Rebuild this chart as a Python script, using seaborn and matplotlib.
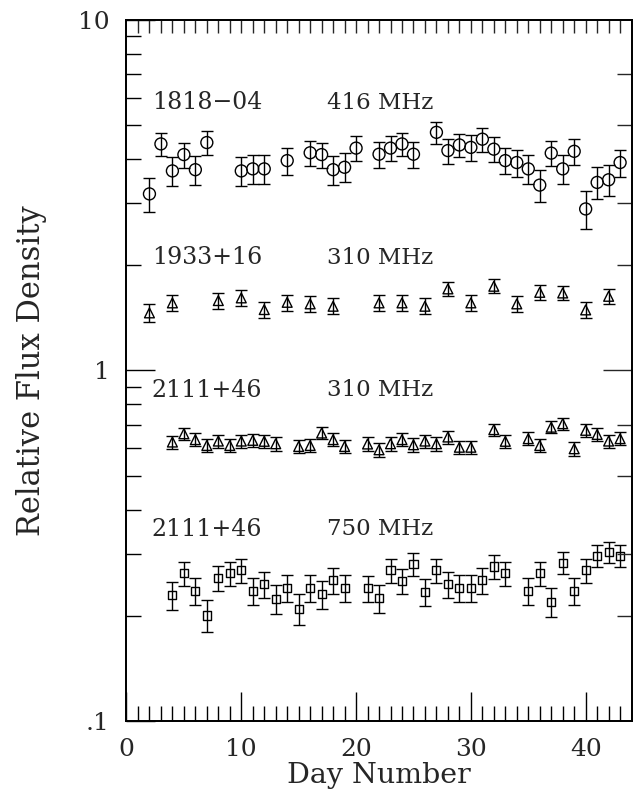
import numpy as np
import pandas as pd
import matplotlib
matplotlib.use("Agg")
import matplotlib.pyplot as plt
import seaborn as sns

# ---------------- data ----------------
days_1818 = [2, 3, 4, 5, 6, 7, 10, 11, 12, 14, 16, 17, 18, 19, 20, 22, 23, 24, 25,
             27, 28, 29, 30, 31, 32, 33, 34, 35, 36, 37, 38, 39, 40, 41, 42, 43]
flux_1818 = [3.19, 4.43, 3.71, 4.13, 3.74, 4.47, 3.71, 3.76, 3.76, 3.97, 4.18, 4.13,
             3.74, 3.80, 4.31, 4.14, 4.31, 4.43, 4.14, 4.78, 4.24, 4.40, 4.33, 4.57,
             4.28, 3.97, 3.92, 3.76, 3.38, 4.17, 3.76, 4.22, 2.89, 3.44, 3.50, 3.92]
err_1818 = [0.35, 0.34, 0.35, 0.34, 0.35, 0.35, 0.35, 0.35, 0.35, 0.35, 0.34, 0.34,
            0.36, 0.36, 0.36, 0.35, 0.35, 0.34, 0.35, 0.35, 0.35, 0.34, 0.36, 0.36,
            0.35, 0.34, 0.35, 0.35, 0.35, 0.34, 0.35, 0.36, 0.36, 0.36, 0.36, 0.35]

days_1933 = [2, 4, 8, 10, 12, 14, 16, 18, 22, 24, 26, 28, 30, 32, 34, 36, 38, 40, 42]
flux_1933 = [1.460, 1.559, 1.583, 1.611, 1.492, 1.565, 1.549, 1.525, 1.559, 1.559,
             1.525, 1.709, 1.559, 1.739, 1.549, 1.671, 1.664, 1.489, 1.628]
err_1933 = [0.083, 0.080, 0.081, 0.081, 0.081, 0.082, 0.080, 0.080, 0.080, 0.080,
            0.080, 0.080, 0.080, 0.080, 0.080, 0.080, 0.080, 0.080, 0.080]

days_2111_310 = [4, 5, 6, 7, 8, 9, 10, 11, 12, 13, 15, 16, 17, 18, 19, 21, 22, 23, 24,
                 25, 26, 27, 28, 29, 30, 32, 33, 35, 36, 37, 38, 39, 40, 41, 42, 43]
flux_2111_310 = [0.625, 0.660, 0.635, 0.611, 0.629, 0.611, 0.629, 0.632, 0.628, 0.618,
                 0.607, 0.611, 0.663, 0.635, 0.607, 0.617, 0.594, 0.618, 0.635, 0.614,
                 0.629, 0.618, 0.646, 0.604, 0.604, 0.678, 0.628, 0.639, 0.611, 0.689,
                 0.705, 0.598, 0.675, 0.657, 0.629, 0.639]
err_2111_310 = [0.027] * len(days_2111_310)

days_2111_750 = [4, 5, 6, 7, 8, 9, 10, 11, 12, 13, 14, 15, 16, 17, 18, 19, 21, 22, 23,
                 24, 25, 26, 27, 28, 29, 30, 31, 32, 33, 35, 36, 37, 38, 39, 40, 41, 42, 43]
flux_2111_750 = [0.229, 0.264, 0.235, 0.200, 0.256, 0.264, 0.269, 0.235, 0.246, 0.223,
                 0.240, 0.209, 0.240, 0.230, 0.252, 0.240, 0.239, 0.224, 0.269, 0.251,
                 0.281, 0.234, 0.269, 0.246, 0.240, 0.240, 0.252, 0.276, 0.264, 0.235,
                 0.264, 0.219, 0.283, 0.235, 0.269, 0.296, 0.304, 0.296]
err_2111_750 = [0.021] * len(days_2111_750)

labels_src = ["1818\u221204", "1933+16", "2111+46", "2111+46"]
labels_freq = ["416 MHz", "310 MHz", "310 MHz", "750 MHz"]
label_y = [5.80, 2.10, 0.877, 0.352]

y_ticks = [0.1, 1, 10]
y_ticklabels = [".1", "1", "10"]
x_ticks = [0, 10, 20, 30, 40]

# ---------------- style ----------------
sns.set_style("ticks")
plt.rcParams["font.family"] = ["DejaVu Serif", "DejaVu Sans"]
plt.rcParams["axes.linewidth"] = 1.1

fig = plt.figure(figsize=(6.34, 7.96), dpi=100)
ax = fig.add_axes([0.1995, 0.0942, 0.7967, 0.8807])

series = [
    (days_1818, flux_1818, err_1818, "o", 74),
    (days_1933, flux_1933, err_1933, "^", 50),
    (days_2111_310, flux_2111_310, err_2111_310, "^", 50),
    (days_2111_750, flux_2111_750, err_2111_750, "s", 34),
]

for d, f, e, m, s in series:
    df = pd.DataFrame({"day": d, "flux": f, "err": e})
    ax.errorbar(df["day"], df["flux"], yerr=df["err"], fmt="none",
                ecolor="black", elinewidth=1.0, capsize=4.2, capthick=1.0, zorder=2)
    sns.scatterplot(data=df, x="day", y="flux", marker=m, s=s,
                    facecolor="none", edgecolor="black", linewidth=1.0,
                    ax=ax, zorder=3, legend=False)

ax.set_yscale("log")
ax.set_xlim(0, 44)
ax.set_ylim(0.1, 10)

ax.set_yticks(y_ticks)
ax.set_yticklabels(y_ticklabels)
ax.set_yticks([0.2, 0.3, 0.4, 0.5, 0.6, 0.7, 0.8, 0.9, 2, 3, 4, 5, 6, 7, 8, 9], minor=True)
ax.yaxis.set_minor_formatter(matplotlib.ticker.NullFormatter())
ax.set_xticks(x_ticks)
ax.set_xticks([i for i in range(1, 44) if i % 10 != 0], minor=True)

ax.tick_params(which="both", direction="in", top=False, right=False,
               width=1.0, color="black", labelsize=18, pad=12)
ax.tick_params(which="major", length=21)
ax.tick_params(which="minor", length=10.5)

# right-hand ticks
axr = ax.twinx()
axr.set_yscale("log")
axr.set_ylim(0.1, 10)
axr.set_yticks([1])
axr.set_yticks([0.2, 0.3, 0.5, 0.7, 2, 3, 5, 7], minor=True)
axr.yaxis.set_major_formatter(matplotlib.ticker.NullFormatter())
axr.yaxis.set_minor_formatter(matplotlib.ticker.NullFormatter())
axr.tick_params(which="both", direction="in", width=1.0, labelright=False)
axr.tick_params(which="major", length=21)
axr.tick_params(which="minor", length=10.5)

# top ticks
axt = ax.twiny()
axt.set_xlim(0, 44)
axt.set_xticks(list(range(1, 44)))
axt.xaxis.set_major_formatter(matplotlib.ticker.NullFormatter())
axt.tick_params(which="both", direction="in", width=1.0, length=9.5, labeltop=False)

for a in (ax, axr, axt):
    for sp in a.spines.values():
        sp.set_linewidth(1.1)
        sp.set_color("black")

for src, freq, yv in zip(labels_src, labels_freq, label_y):
    ax.text(2.2, yv, src, ha="left", va="center", fontsize=17)
    ax.text(17.5, yv, freq, ha="left", va="center", fontsize=16.5)

ax.set_xlabel("Day Number", fontsize=20.5)
ax.set_ylabel("Relative Flux Density", fontsize=22, va="center")
ax.xaxis.set_label_coords(0.5, -0.059)
ax.yaxis.set_label_coords(-0.189, 0.5)

fig.savefig("out.png", dpi=100)
